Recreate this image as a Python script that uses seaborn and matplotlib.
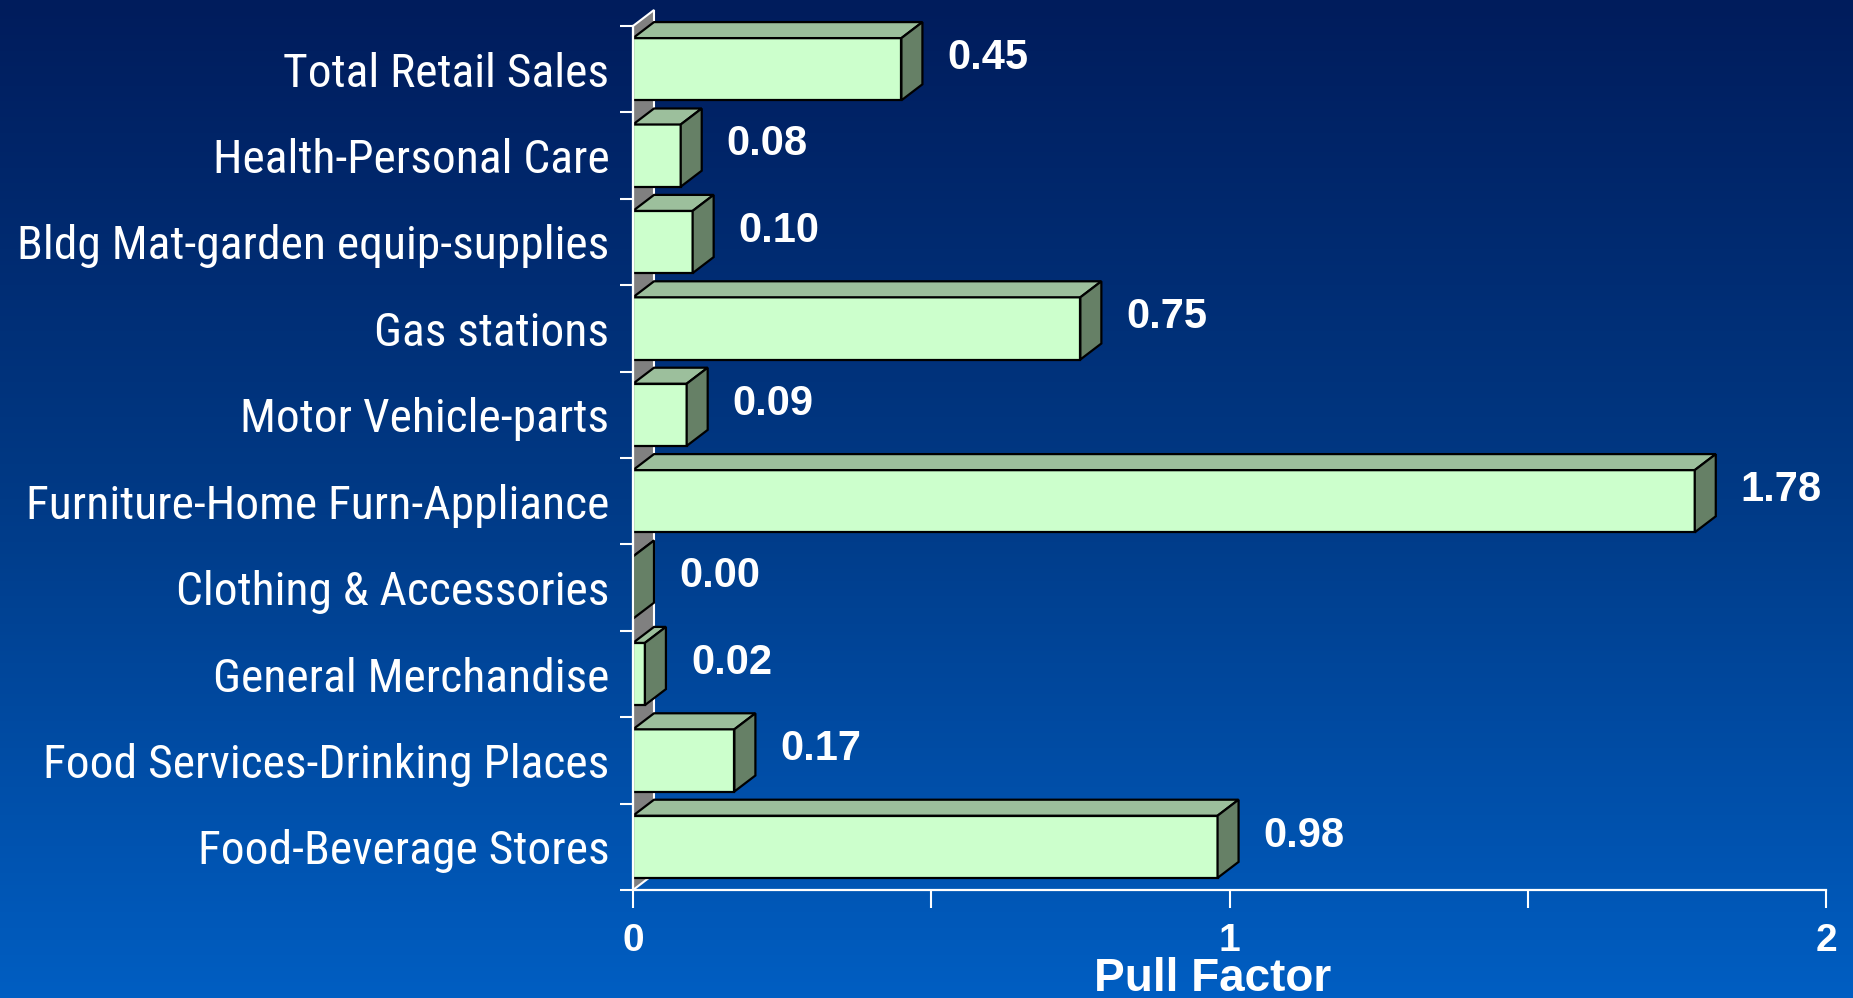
import numpy as np
import pandas as pd
import matplotlib
matplotlib.use("Agg")
import matplotlib.pyplot as plt
from matplotlib import font_manager
from matplotlib.colors import LinearSegmentedColormap
from matplotlib.patches import Polygon
import seaborn as sns

# pull factor by retail category (top to bottom)
categories = ["Total Retail Sales", "Health-Personal Care", "Bldg Mat-garden equip-supplies",
              "Gas stations", "Motor Vehicle-parts", "Furniture-Home Furn-Appliance",
              "Clothing & Accessories", "General Merchandise", "Food Services-Drinking Places",
              "Food-Beverage Stores"]
values = [0.45, 0.08, 0.10, 0.75, 0.09, 1.78, 0.00, 0.02, 0.17, 0.98]
x_ticks = [0, 1, 2]
x_minor = [0.5, 1.5]

df = pd.DataFrame({"category": categories, "pull": values})

sns.set_style("ticks")
plt.rcParams["font.family"] = ["Liberation Sans", "DejaVu Sans"]

# the labels use a narrow face; take one if it is there
names = {f.name for f in font_manager.fontManager.ttflist}
if "Roboto Condensed" in names:
    cat_font, cat_size = ["Roboto Condensed", "DejaVu Sans"], 34.2
elif "Liberation Sans Narrow" in names:
    cat_font, cat_size = ["Liberation Sans Narrow", "DejaVu Sans"], 34
else:
    cat_font, cat_size = ["Liberation Sans", "DejaVu Sans"], 30

W, H = 1853, 998
fig = plt.figure(figsize=(W / 100, H / 100), dpi=100)

# background gradient
bg = fig.add_axes([0, 0, 1, 1], zorder=-10)
cmap = LinearSegmentedColormap.from_list("bg", ["#001c5c", "#003a86", "#005ec2"])
grad = np.linspace(0, 1, 256).reshape(-1, 1)
bg.imshow(grad, aspect="auto", cmap=cmap, extent=[0, 1, 0, 1], origin="upper")
bg.axis("off")

ax = fig.add_axes([633 / W, 1 - 890 / H, (1826 - 633) / W, (890 - 26) / H])
ax.set_facecolor("none")

sns.barplot(data=df, x="pull", y="category", orient="h", width=0.72, color="#ccffcc",
            saturation=1, edgecolor="black", linewidth=1.6, ax=ax, zorder=3)

ax.set_xlim(0, 2)
ax.set_ylim(9.5, -0.5)

# 3d depth
dx = 21 / 596.5
dy = 16 / 86.4

wall = Polygon([(0, -0.5), (dx, -0.5 - dy), (dx, 9.5 - dy), (0, 9.5)], closed=True,
               facecolor="#808080", edgecolor="white", linewidth=1.5, zorder=1, clip_on=False)
ax.add_patch(wall)

for p, v in zip(list(ax.patches)[:len(values)], values):
    x0, y0, w, h = p.get_x(), p.get_y(), p.get_width(), p.get_height()
    top = Polygon([(x0, y0), (x0 + w, y0), (x0 + w + dx, y0 - dy), (x0 + dx, y0 - dy)],
                  closed=True, facecolor="#9cbf9c", edgecolor="black", linewidth=1.6,
                  zorder=3, clip_on=False)
    side = Polygon([(x0 + w, y0), (x0 + w + dx, y0 - dy), (x0 + w + dx, y0 + h - dy), (x0 + w, y0 + h)],
                   closed=True, facecolor="#668066", edgecolor="black", linewidth=1.6,
                   zorder=3, clip_on=False)
    ax.add_patch(top)
    ax.add_patch(side)
    ax.text(x0 + w + dx + 0.042, y0 + h / 2 - 0.13, f"{v:.2f}", color="white",
            fontsize=30, fontweight="bold", va="center", ha="left")

for s in ["top", "right"]:
    ax.spines[s].set_visible(False)
for s in ["left", "bottom"]:
    ax.spines[s].set_color("white")
    ax.spines[s].set_linewidth(1.6)
    ax.spines[s].set_zorder(5)

ax.set_yticks(range(len(categories)))
ax.set_yticklabels(categories, family=cat_font, fontsize=cat_size, color="white")
ax.set_yticks(np.arange(-0.5, len(categories), 1), minor=True)
ax.tick_params(axis="y", which="major", length=0, pad=17)
ax.tick_params(axis="y", which="minor", length=9.5, width=1.5, color="white")

ax.set_xticks(x_ticks)
ax.set_xticklabels([str(t) for t in x_ticks], fontsize=28, fontweight="bold", color="white")
ax.set_xticks(x_minor, minor=True)
ax.tick_params(axis="x", which="both", length=13, width=1.5, color="white", pad=10.5)

ax.set_ylabel("")
ax.set_xlabel("Pull Factor", fontsize=33, fontweight="bold", color="white", labelpad=-1, x=0.486)

fig.savefig("out.png", dpi=100)
